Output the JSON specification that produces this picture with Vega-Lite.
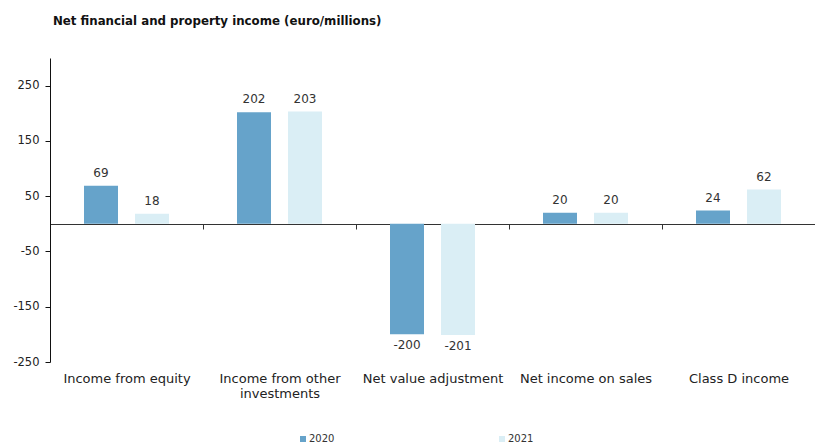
{
  "$schema": "https://vega.github.io/schema/vega-lite/v6.json",
  "autosize": {"type": "none"},
  "padding": {"left": 50, "top": 58, "right": 0, "bottom": 83},
  "width": 765,
  "height": 304,
  "title": {
    "text": "Net financial and property income (euro/millions)",
    "anchor": "start",
    "dx": 40,
    "offset": 30,
    "font": "DejaVu Sans",
    "fontSize": 11.8,
    "fontWeight": "bold",
    "color": "#111111"
  },
  "config": {
    "view": {"stroke": null},
    "font": "DejaVu Sans"
  },
  "data": {
    "values": [
      {"category": "Income from equity", "year": "2020", "value": 69},
      {"category": "Income from equity", "year": "2021", "value": 18},
      {"category": "Income from other investments", "year": "2020", "value": 202},
      {"category": "Income from other investments", "year": "2021", "value": 203},
      {"category": "Net value adjustment", "year": "2020", "value": -200},
      {"category": "Net value adjustment", "year": "2021", "value": -201},
      {"category": "Net income on sales", "year": "2020", "value": 20},
      {"category": "Net income on sales", "year": "2021", "value": 20},
      {"category": "Class D income", "year": "2020", "value": 24},
      {"category": "Class D income", "year": "2021", "value": 62}
    ]
  },
  "encoding": {
    "x": {
      "field": "category",
      "type": "nominal",
      "sort": null,
      "scale": {"paddingInner": 0, "paddingOuter": 0},
      "axis": {
        "title": null,
        "orient": "bottom",
        "offset": -138,
        "labelAngle": 0,
        "labelLimit": 300,
        "labelPadding": 143,
        "labelFontSize": 13,
        "labelColor": "#222222",
        "labelExpr": "datum.label == 'Income from other investments' ? ['Income from other', 'investments'] : datum.label",
        "tickBand": "extent",
        "tickSize": 5,
        "tickColor": "#333333",
        "domainColor": "#333333",
        "domainWidth": 1.2
      }
    },
    "xOffset": {
      "field": "year",
      "type": "nominal",
      "scale": {"paddingInner": 0.3333, "paddingOuter": 0.6667}
    },
    "y": {
      "field": "value",
      "type": "quantitative",
      "scale": {"domain": [-250, 300], "nice": false, "zero": false},
      "axis": {
        "title": null,
        "grid": false,
        "values": [250, 150, 50, -50, -150, -250],
        "labelExpr": "toString(datum.value)",
        "labelFontSize": 11.5,
        "labelColor": "#222222",
        "domainColor": "#111111",
        "tickColor": "#111111",
        "tickSize": 5,
        "labelPadding": 6
      }
    }
  },
  "layer": [
    {
      "mark": {"type": "bar"},
      "encoding": {
        "color": {
          "field": "year",
          "type": "nominal",
          "scale": {"domain": ["2020", "2021"], "range": ["#66a3ca", "#daeef5"]},
          "legend": {
            "title": null,
            "orient": "none",
            "direction": "horizontal",
            "legendX": 248,
            "legendY": 376,
            "symbolType": "square",
            "symbolSize": 36,
            "symbolStrokeWidth": 0,
            "labelFontSize": 10,
            "labelColor": "#333333",
            "labelOffset": 1,
            "columnPadding": 162
          }
        }
      }
    },
    {
      "transform": [{"filter": "datum.value >= 0"}],
      "mark": {"type": "text", "baseline": "bottom", "dy": -6, "fontSize": 12, "color": "#333333"},
      "encoding": {"text": {"field": "value", "type": "nominal"}}
    },
    {
      "transform": [{"filter": "datum.value < 0"}],
      "mark": {"type": "text", "baseline": "top", "dy": 6, "fontSize": 12, "color": "#333333"},
      "encoding": {"text": {"field": "value", "type": "nominal"}}
    }
  ]
}
